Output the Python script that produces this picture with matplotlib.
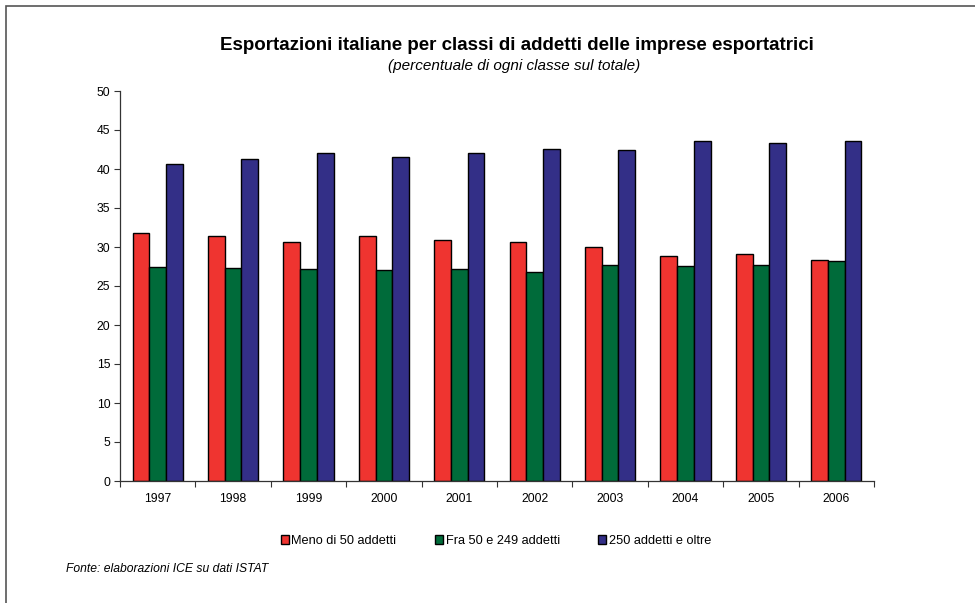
import numpy as np
import matplotlib.pyplot as plt
from matplotlib.patches import Rectangle

plt.rcParams['font.family'] = ['Liberation Sans', 'DejaVu Sans']

years = ['1997', '1998', '1999', '2000', '2001', '2002', '2003', '2004', '2005', '2006']
meno_50 = [31.8, 31.45, 30.7, 31.45, 30.85, 30.6, 29.95, 28.9, 29.05, 28.3]
fra_50_249 = [27.4, 27.3, 27.2, 27.05, 27.2, 26.8, 27.65, 27.55, 27.65, 28.15]
oltre_250 = [40.7, 41.3, 42.1, 41.5, 42.05, 42.6, 42.4, 43.6, 43.35, 43.6]

series = [
    (meno_50, 'Meno di 50 addetti', '#EF3430'),
    (fra_50_249, 'Fra 50 e 249 addetti', '#006B3A'),
    (oltre_250, '250 addetti e oltre', '#332F87'),
]

fig = plt.figure(figsize=(9.75, 6.03), dpi=100)
# outer frame (only left/top edges fall inside the picture)
fig.patches.append(Rectangle((6 / 975, -0.05), 1.2, 1 - 6 / 603 + 0.05,
                             transform=fig.transFigure, fill=False,
                             edgecolor='#555555', linewidth=1.2))

ax = fig.add_axes([120 / 975, 1 - 481 / 603, 754 / 975, 390 / 603])

x = np.arange(len(years))
w = 0.222
for i, (vals, label, color) in enumerate(series):
    ax.bar(x + (i - 1) * w, vals, width=w, color=color, edgecolor='black',
           linewidth=1.0, label=label)

ax.set_xlim(-0.5, len(years) - 0.5)
ax.set_ylim(0, 50)
ax.set_yticks(range(0, 51, 5))
ax.set_xticks(x)
ax.set_xticklabels(years)
ax.set_xticks(np.arange(-0.5, len(years)), minor=True)
ax.tick_params(axis='x', which='major', length=0, pad=9, labelsize=8.8)
ax.tick_params(axis='x', which='minor', length=4, width=0.8, color='#333333')
ax.tick_params(axis='y', length=4, width=0.8, color='#333333', labelsize=8.8, pad=3)
for s in ['top', 'right']:
    ax.spines[s].set_visible(False)
for s in ['left', 'bottom']:
    ax.spines[s].set_color('#333333')
    ax.spines[s].set_linewidth(0.9)

fig.text(517 / 975, 1 - 46 / 603, 'Esportazioni italiane per classi di addetti delle imprese esportatrici',
         ha='center', va='center', fontsize=13.5, fontweight='bold')
fig.text(514 / 975, 1 - 66 / 603, '(percentuale di ogni classe sul totale)',
         ha='center', va='center', fontsize=11, style='italic')

fig.legend(loc='center', bbox_to_anchor=(496 / 975, 1 - 541 / 603), ncol=3,
           frameon=False, fontsize=9.2, handlelength=0.65, handleheight=0.65,
           handletextpad=0.2, columnspacing=3.0)

fig.text(66 / 975, 1 - 569 / 603, 'Fonte: elaborazioni ICE su dati ISTAT',
         ha='left', va='center', fontsize=8.7, style='italic')

fig.savefig('out.png', dpi=100)
